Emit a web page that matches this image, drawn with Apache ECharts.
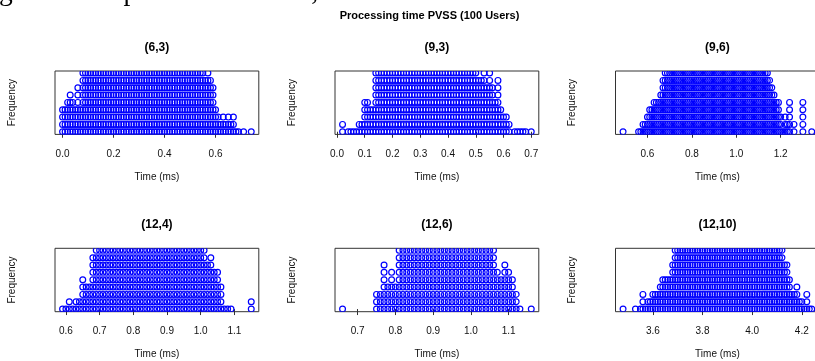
<!DOCTYPE html>
<html>
<head>
<meta charset="utf-8">
<script src="https://cdn.jsdelivr.net/npm/echarts@6/dist/echarts.min.js"></script>
<style>
html, body { margin: 0; padding: 0; background: #fff; }
#chart { width: 815px; height: 361px; }
</style>
</head>
<body>
<div id="chart"></div>
<script>
var panelNames = ['(6,3)', '(9,3)', '(9,6)', '(12,4)', '(12,6)', '(12,10)'];

var times63 = [0.00,0.01,0.02,0.03,0.04,0.05,0.06,0.07,0.08,0.09,
    0.10,0.11,0.12,0.13,0.14,0.15,0.16,0.17,0.18,0.19,
    0.20,0.21,0.22,0.23,0.24,0.25,0.26,0.27,0.28,0.29,
    0.30,0.31,0.32,0.33,0.34,0.35,0.36,0.37,0.38,0.39,
    0.40,0.41,0.42,0.43,0.44,0.45,0.46,0.47,0.48,0.49,
    0.50,0.51,0.52,0.53,0.54,0.55,0.56,0.57,0.58,0.59,
    0.60,0.61,0.62,0.63,0.64,0.65,0.66,0.67,0.68,0.69,
    0.71,0.74];
var counts63 = [4,4,5,6,5,4,7,4,10,10,
    10,10,10,10,10,10,10,10,10,10,
    10,10,10,10,10,10,10,10,10,10,
    10,10,10,10,10,10,10,10,10,10,
    10,10,10,10,10,10,10,10,10,10,
    10,10,10,10,9,10,8,10,8,7,
    4,3,2,3,2,3,2,3,1,1,
    1,1];

var times93 = [0.02,0.04,0.05,0.06,0.07,0.08,0.09,
    0.10,0.11,0.12,0.13,0.14,0.15,0.16,0.17,0.18,0.19,
    0.20,0.21,0.22,0.23,0.24,0.25,0.26,0.27,0.28,0.29,
    0.30,0.31,0.32,0.33,0.34,0.35,0.36,0.37,0.38,0.39,
    0.40,0.41,0.42,0.43,0.44,0.45,0.46,0.47,0.48,0.49,
    0.50,0.51,0.52,0.53,0.54,0.55,0.56,0.57,0.58,0.59,
    0.60,0.61,0.62,0.64,0.65,0.66,0.67,0.68,0.70];
var counts93 = [2,1,1,1,1,2,2,
    5,5,4,4,10,10,10,10,10,10,
    10,10,10,10,10,10,10,10,10,10,
    10,10,10,10,10,10,10,10,10,10,
    10,10,10,10,10,10,10,10,10,10,
    9,8,8,9,7,9,7,5,8,4,
    3,3,2,1,1,1,1,1,1];

var times96 = [0.49,0.56,0.57,0.58,0.59,
    0.60,0.61,0.62,0.63,0.64,0.65,0.66,0.67,0.68,0.69,
    0.70,0.71,0.72,0.73,0.74,0.75,0.76,0.77,0.78,0.79,
    0.80,0.81,0.82,0.83,0.84,0.85,0.86,0.87,0.88,0.89,
    0.90,0.91,0.92,0.93,0.94,0.95,0.96,0.97,0.98,0.99,
    1.00,1.01,1.02,1.03,1.04,1.05,1.06,1.07,1.08,1.09,
    1.10,1.11,1.12,1.13,1.14,1.15,1.16,1.17,1.18,1.19,
    1.20,1.21,1.22,1.23,1.24,1.26,1.30,1.34];
var counts96 = [1,1,1,2,2,
    3,4,4,5,5,5,6,8,10,10,
    10,10,10,10,10,10,10,10,10,10,
    10,10,10,10,10,10,10,10,10,10,
    10,10,10,10,10,10,10,10,10,10,
    10,10,10,10,10,10,10,10,10,10,
    10,10,10,10,10,8,7,6,5,5,
    3,1,3,2,5,2,5,1];

var times124 = [0.59,0.60,0.61,0.62,0.63,0.64,0.65,0.66,0.67,0.68,0.69,
    0.70,0.71,0.72,0.73,0.74,0.75,0.76,0.77,0.78,0.79,
    0.80,0.81,0.82,0.83,0.84,0.85,0.86,0.87,0.88,0.89,
    0.90,0.91,0.92,0.93,0.94,0.95,0.96,0.97,0.98,0.99,
    1.00,1.01,1.02,1.03,1.04,1.05,1.06,1.07,1.08,1.09,
    1.15];
var counts124 = [1,1,2,1,2,2,5,4,4,8,10,
    10,10,10,10,10,10,10,10,10,10,
    10,10,10,10,10,10,10,10,10,10,
    10,10,10,10,10,10,10,10,10,10,
    10,10,7,8,6,6,4,1,1,1,
    2];

var times126 = [0.66,0.75,0.76,0.77,0.78,0.79,
    0.80,0.81,0.82,0.83,0.84,0.85,0.86,0.87,0.88,0.89,
    0.90,0.91,0.92,0.93,0.94,0.95,0.96,0.97,0.98,0.99,
    1.00,1.01,1.02,1.03,1.04,1.05,1.06,1.07,1.08,1.09,
    1.10,1.11,1.12,1.13,1.16];
var counts126 = [1,3,3,7,4,6,
    4,10,10,10,10,10,10,10,10,10,
    10,10,10,10,10,10,10,10,10,10,
    10,10,10,10,10,10,10,6,5,7,
    6,5,3,1,1];

var times1210 = [3.48,3.53,3.55,3.56,3.57,3.58,3.59,
    3.60,3.61,3.62,3.63,3.64,3.65,3.66,3.67,3.68,3.69,
    3.70,3.71,3.72,3.73,3.74,3.75,3.76,3.77,3.78,3.79,
    3.80,3.81,3.82,3.83,3.84,3.85,3.86,3.87,3.88,3.89,
    3.90,3.91,3.92,3.93,3.94,3.95,3.96,3.97,3.98,3.99,
    4.00,4.01,4.02,4.03,4.04,4.05,4.06,4.07,4.08,4.09,
    4.10,4.11,4.12,4.13,4.14,4.15,4.16,4.17,4.18,4.19,
    4.20,4.21,4.22,4.23,4.24];
var counts1210 = [1,1,1,3,1,2,2,
    3,3,3,4,5,5,5,5,7,10,
    10,10,10,10,10,10,10,10,10,10,
    10,10,10,10,10,10,10,10,10,10,
    10,10,10,10,10,10,10,10,10,10,
    10,10,10,10,10,10,10,10,10,10,
    10,10,10,7,7,5,3,3,4,2,
    2,1,3,1,1];

// marcas do eixo x de cada painel
var ticks63 = [0.0, 0.2, 0.4, 0.6];
var ticks93 = [0.0, 0.1, 0.2, 0.3, 0.4, 0.5, 0.6, 0.7];
var ticks96 = [0.6, 0.8, 1.0, 1.2];
var ticks124 = [0.6, 0.7, 0.8, 0.9, 1.0, 1.1];
var ticks126 = [0.7, 0.8, 0.9, 1.0, 1.1];
var ticks1210 = [3.6, 3.8, 4.0, 4.2];

var allTimes = [times63, times93, times96, times124, times126, times1210];
var allCounts = [counts63, counts93, counts96, counts124, counts126, counts1210];
var allTicks = [ticks63, ticks93, ticks96, ticks124, ticks126, ticks1210];

var boxLefts = [55, 335, 615.5];    // x da caixa de cada coluna
var boxTops = [71, 248.3];          // y da caixa de cada linha
var boxW = 203.8, boxH = 63.4;
var textColor = '#111';
var fontName = '"Liberation Sans", Arial, sans-serif';

function renderDot(params, api) {
    var p = api.coord([api.value(0), api.value(1)]);
    return {
        type: 'circle',
        silent: true,
        shape: { cx: p[0], cy: p[1], r: 2.9 },
        style: { fill: 'none', stroke: '#0000ff', lineWidth: 1.2 }
    };
}

var grids = [], xAxes = [], yAxes = [], series = [];
var graphics = [
    { type: 'text', x: -1, y: -7, style: { text: 'gerar a se aproximarem de 4,0 ', font: '27.5px "Liberation Serif", serif', fill: '#000', verticalAlign: 'middle' } },
    { type: 'text', x: 337, y: -7, style: { text: 'ms.', font: 'italic 27.5px "Liberation Serif", serif', fill: '#000', verticalAlign: 'middle' } },
    { type: 'text', x: 429.5, y: 15.5, style: { text: 'Processing time PVSS (100 Users)', font: 'bold 11px ' + fontName, fill: '#000', align: 'center', verticalAlign: 'middle' } }
];

for (var i = 0; i < 6; i++) {
    var boxLeft = boxLefts[i % 3], boxTop = boxTops[Math.floor(i / 3)];
    var times = allTimes[i], counts = allCounts[i];
    // como no stripchart do R: faixa dos dados + 4% de cada lado
    var lo = Math.min.apply(null, times), hi = Math.max.apply(null, times);
    var pad = (hi - lo) * 0.04;
    var points = [];
    for (var j = 0; j < times.length; j++) {
        for (var k = 0; k < counts[j]; k++) {
            points.push([times[j], k]);
        }
    }
    grids.push({
        left: boxLeft, top: boxTop, width: boxW, height: boxH,
        outerBoundsMode: 'none', containLabel: false,
        show: true, borderColor: '#333', borderWidth: 1, backgroundColor: 'transparent'
    });
    xAxes.push({
        gridIndex: i, type: 'value', min: lo - pad, max: hi + pad,
        axisLine: { show: false },
        splitLine: { show: false },
        axisTick: { show: true, customValues: allTicks[i], length: 6, lineStyle: { color: '#333' } },
        axisLabel: {
            customValues: allTicks[i], margin: 15, fontSize: 10, color: textColor, fontFamily: fontName,
            formatter: function (v) { return Number(v).toFixed(1); }
        },
        name: 'Time (ms)', nameLocation: 'middle', nameGap: 38,
        nameTextStyle: { fontSize: 10, color: textColor, fontFamily: fontName }
    });
    yAxes.push({
        gridIndex: i, type: 'value', min: -0.36, max: 8.28,
        axisLine: { show: false }, axisTick: { show: false },
        axisLabel: { show: false }, splitLine: { show: false },
        name: 'Frequency', nameLocation: 'middle', nameGap: 38, nameRotate: 90,
        nameTextStyle: { fontSize: 10, color: textColor, fontFamily: fontName }
    });
    series.push({
        type: 'custom', xAxisIndex: i, yAxisIndex: i,
        clip: true, renderItem: renderDot, data: points
    });
    graphics.push({
        type: 'text', x: boxLeft + boxW / 2, y: boxTop - 23.5,
        style: { text: panelNames[i], font: 'bold 12px ' + fontName, fill: '#000', align: 'center', verticalAlign: 'middle' }
    });
}

var chart = echarts.init(document.getElementById('chart'));
chart.setOption({
    animation: false,
    backgroundColor: '#fff',
    grid: grids,
    xAxis: xAxes,
    yAxis: yAxes,
    series: series,
    graphic: graphics
});
</script>
</body>
</html>
